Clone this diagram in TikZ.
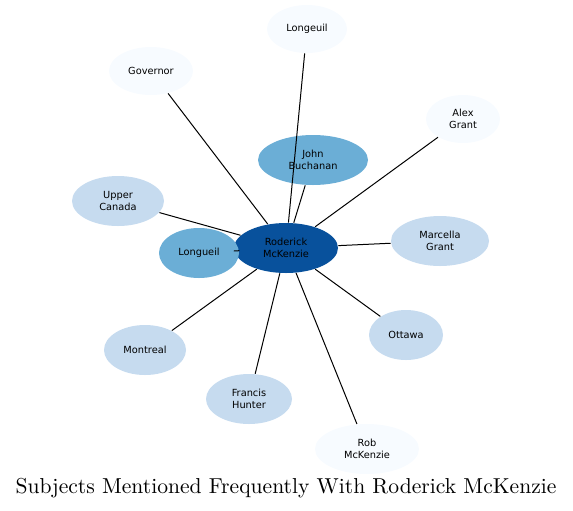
\documentclass[tikz,border=0pt]{standalone}
\usepackage{fontspec}
\newfontfamily\labelfont{DejaVu Sans}
\usetikzlibrary{shapes.geometric}
\usetikzlibrary{positioning}

\definecolor{bluedark}{HTML}{08519C}
\definecolor{bluemid}{HTML}{6BAED6}
\definecolor{bluelight}{HTML}{C6DBEF}
\definecolor{bluepale}{HTML}{F7FBFF}

\begin{document}
\begin{tikzpicture}[x = 0.5pt, y = -0.5pt, line width = 0.5pt,
    subj/.style = {ellipse, inner sep = 0pt, minimum height = 25pt, align = center,
                   font = \labelfont\fontsize{4.9}{6}\selectfont},
    lvlA/.style = {subj, fill = bluedark},
    lvlB/.style = {subj, fill = bluemid},
    lvlC/.style = {subj, fill = bluelight},
    lvlD/.style = {subj, fill = bluepale}]

    \useasboundingbox (0,0) rectangle (573,510);

    % centre
    \node (RM) at (286,248) [lvlA, minimum width = 52pt] {Roderick\\McKenzie};

    % neighbours
    \node (LT) at (307,29)  [lvlD, minimum width = 40pt, minimum height = 24pt] {Longeuil};
    \node (GV) at (151,71)  [lvlD, minimum width = 42pt, minimum height = 24pt] {Governor};
    \node (AG) at (463,119) [lvlD, minimum width = 37pt, minimum height = 24pt] {Alex\\Grant};
    \node (JB) at (313,160) [lvlB, minimum width = 55pt] {John\\Buchanan};
    \node (UC) at (118,201) [lvlC, minimum width = 46pt] {Upper\\Canada};
    \node (MG) at (440,241) [lvlC, minimum width = 49pt] {Marcella\\Grant};
    \node (LL) at (199,253) [lvlB, minimum width = 40pt] {Longueil};
    \node (MT) at (145,350) [lvlC, minimum width = 41pt] {Montreal};
    \node (OT) at (406,335) [lvlC, minimum width = 37pt] {Ottawa};
    \node (FH) at (249,399) [lvlC, minimum width = 43pt] {Francis\\Hunter};
    \node (RK) at (367,449) [lvlD, minimum width = 52pt] {Rob\\McKenzie};

    % links
    \foreach \n in {LT, GV, AG, JB, UC, MG, LL, MT, OT, FH, RK}
        \draw (RM) -- (\n);

    \node (title) at (286,488) {\fontsize{10.8}{13}\selectfont Subjects Mentioned Frequently With Roderick McKenzie};

\end{tikzpicture}
\end{document}
